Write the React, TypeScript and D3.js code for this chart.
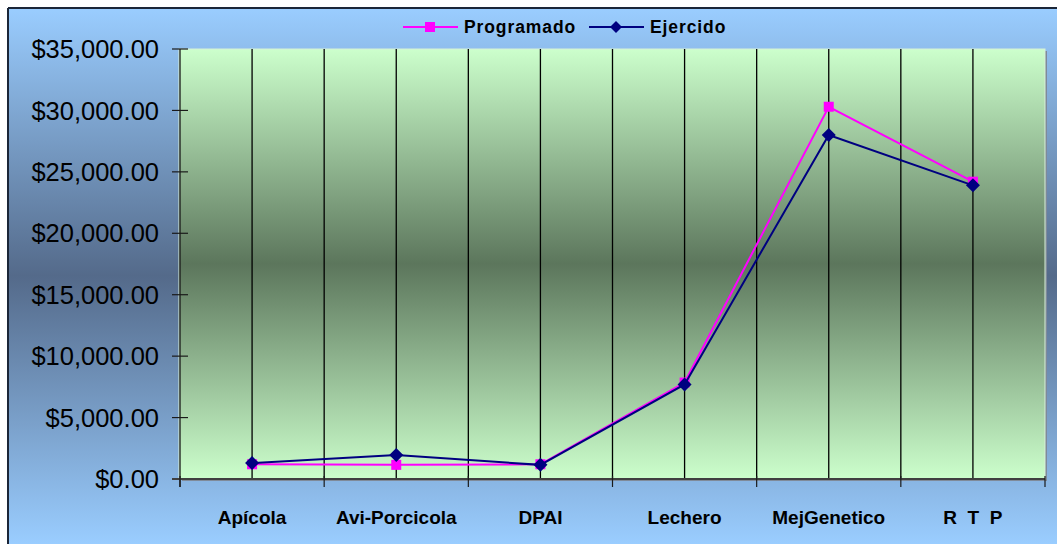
import React from 'react';
import * as d3 from 'd3';

const categories = ['Apícola', 'Avi-Porcicola', 'DPAI', 'Lechero', 'MejGenetico', 'R  T  P'];
const programado = [1200, 1150, 1200, 7850, 30300, 24200];
const ejercido = [1300, 1950, 1150, 7700, 28000, 23900];
const yTicks = [0, 5000, 10000, 15000, 20000, 25000, 30000, 35000];

const seriesList = [
  { name: 'Programado', values: programado, color: '#ff00ff', marker: 'square' },
  { name: 'Ejercido', values: ejercido, color: '#000080', marker: 'diamond' },
];

const W = 1057;
const H = 544;

const App: React.FC = () => {
  const plot = { left: 180, right: 1045, top: 49, bottom: 479 };

  const x = d3.scaleBand<string>().domain(categories).range([plot.left, plot.right]).padding(0);
  const bw = x.bandwidth();
  const cx = (c: string) => (x(c) as number) + bw / 2;
  const y = d3.scaleLinear().domain([0, 35000]).range([plot.bottom, plot.top]);

  const fmt = (v: number) => '$' + d3.format(',.2f')(v);

  const line = d3
    .line<number>()
    .x((_, i) => cx(categories[i]))
    .y(d => y(d));

  // gridlines at every category centre and boundary
  const gridX: number[] = [];
  categories.forEach(c => {
    gridX.push(cx(c));
    if (c !== categories[0]) gridX.push(x(c) as number);
  });
  const boundaries = categories.map(c => x(c) as number).concat([plot.right]);

  const font = 'Arial, "Liberation Sans", Helvetica, sans-serif';

  return (
    <svg
      width={W}
      height={H}
      style={{ position: 'absolute', left: 0, top: 0, background: '#fff' }}
    >
      <defs>
        <linearGradient id="outerGrad" x1="0" y1="0" x2="0" y2="1">
          <stop offset="0" stopColor="#9acdff" />
          <stop offset="0.5" stopColor="#546a8a" />
          <stop offset="1" stopColor="#9acdff" />
        </linearGradient>
        <linearGradient id="plotGrad" x1="0" y1="0" x2="0" y2="1">
          <stop offset="0" stopColor="#ccffcc" />
          <stop offset="0.5" stopColor="#5c765c" />
          <stop offset="1" stopColor="#ccffcc" />
        </linearGradient>
      </defs>

      {/* chart area (extends past the picture on the right and bottom) */}
      <rect x={8} y={8} width={W} height={H} fill="url(#outerGrad)" />
      <rect x={8} y={8} width={W} height={H - 8} fill="url(#outerGrad)" />
      <line x1={8} x2={W} y1={8} y2={8} stroke="#1b2638" strokeWidth={2} />
      <line x1={8} x2={8} y1={8} y2={H} stroke="#1b2638" strokeWidth={2} />

      {/* plot area shadow + fill */}
      <rect x={plot.left + 2} y={plot.top + 2} width={plot.right - plot.left} height={plot.bottom - plot.top} fill="#7f8a99" />
      <rect x={plot.left - 1} y={plot.top} width={plot.right - plot.left + 1} height={plot.bottom - plot.top} fill="url(#plotGrad)" stroke="#d8f0d8" strokeWidth={1} />

      {/* vertical gridlines */}
      {gridX.map((gx, i) => (
        <line key={'g' + i} x1={gx} x2={gx} y1={plot.top} y2={plot.bottom} stroke="#000" strokeWidth={1.3} />
      ))}

      {/* y axis */}
      <line x1={plot.left} x2={plot.left} y1={plot.top} y2={plot.bottom + 8} stroke="#1a1a1a" strokeWidth={1.3} />
      {yTicks.map(t => (
        <g key={t}>
          <line x1={plot.left - 8} x2={plot.left + 8} y1={y(t)} y2={y(t)} stroke="#1a1a1a" strokeWidth={1.2} />
          <text
            x={159}
            y={y(t)}
            dy="0.36em"
            textAnchor="end"
            fontFamily={font}
            fontSize={25.5}
            fill="#000"
          >
            {fmt(t)}
          </text>
        </g>
      ))}

      {/* x axis */}
      <line x1={plot.left - 8} x2={plot.right} y1={plot.bottom} y2={plot.bottom} stroke="#404040" strokeWidth={2.2} />
      {boundaries.map((b, i) => (
        <line key={'b' + i} x1={b} x2={b} y1={plot.bottom - 3} y2={plot.bottom + 8} stroke="#1a1a1a" strokeWidth={1.2} />
      ))}
      {categories.map(c => (
        <text
          key={c}
          x={cx(c)}
          y={524}
          textAnchor="middle"
          fontFamily={font}
          fontWeight="bold"
          fontSize={19}
          style={{ whiteSpace: 'pre' }}
          fill="#000"
        >
          {c}
        </text>
      ))}

      {/* series */}
      {seriesList.map(s => (
        <g key={s.name}>
          <path d={line(s.values) as string} fill="none" stroke={s.color} strokeWidth={2} />
          {s.values.map((v, i) => {
            const px = cx(categories[i]);
            const py = y(v);
            return s.marker === 'square' ? (
              <rect key={i} x={px - 5} y={py - 5} width={10} height={10} fill={s.color} />
            ) : (
              <path key={i} d={`M${px},${py - 7}L${px + 7},${py}L${px},${py + 7}L${px - 7},${py}Z`} fill={s.color} />
            );
          })}
        </g>
      ))}

      {/* legend */}
      {seriesList.map((s, i) => {
        const lx = i === 0 ? 403 : 589;
        const ly = 27;
        return (
          <g key={'l' + s.name}>
            <line x1={lx} x2={lx + 55} y1={ly} y2={ly} stroke={s.color} strokeWidth={2} />
            {s.marker === 'square' ? (
              <rect x={lx + 22} y={ly - 5} width={10} height={10} fill={s.color} />
            ) : (
              <path d={`M${lx + 27},${ly - 6}L${lx + 33},${ly}L${lx + 27},${ly + 6}L${lx + 21},${ly}Z`} fill={s.color} />
            )}
            <text
              x={lx + 61}
              y={ly}
              dy="0.36em"
              fontFamily={font}
              fontWeight="bold"
              fontSize={17.5}
              letterSpacing={0.9}
              fill="#000"
            >
              {s.name}
            </text>
          </g>
        );
      })}
    </svg>
  );
};

export default App;
